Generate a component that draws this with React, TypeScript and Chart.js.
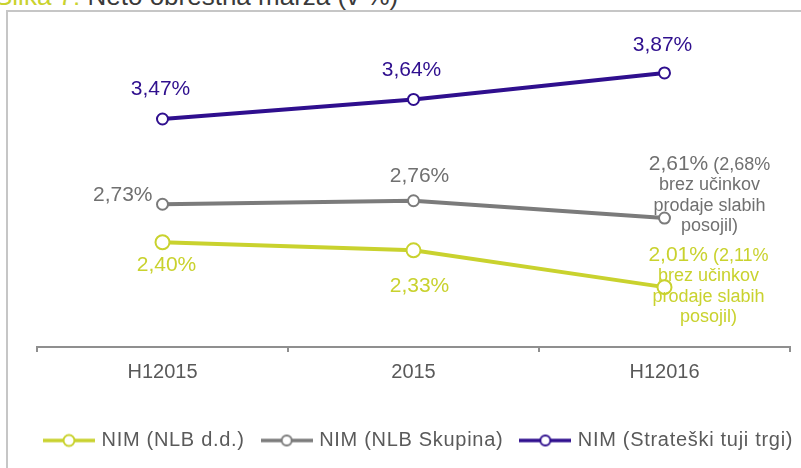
import React, { useEffect, useRef } from 'react';
import { Chart, registerables } from 'chart.js';

Chart.register(...registerables);

const FONT = '"Liberation Sans", Arial, Helvetica, sans-serif';

// ---- data ----
const categories = ['H12015', '2015', 'H12016'];
const seriesNames = ['NIM (NLB d.d.)', 'NIM (NLB Skupina)', 'NIM (Strateški tuji trgi)'];
const nimNlbDD = [2.40, 2.33, 2.01];
const nimNlbSkupina = [2.73, 2.76, 2.61];
const nimStrateski = [3.47, 3.64, 3.87];
const notesNlbDD = [null, null, ['(2,11%', 'brez učinkov', 'prodaje slabih', 'posojil)']];
const notesNlbSkupina = [null, null, ['(2,68%', 'brez učinkov', 'prodaje slabih', 'posojil)']];
const notesStrateski = [null, null, null];
const titleLead = 'Slika 7:';
const titleText = 'Neto obrestna marža (v %)';

// ---- styles ----
const YELLOW = '#c9d22e';
const GRAY = '#7b7b7b';
const GRAY_TEXT = '#707070';
const PURPLE = '#2f0f8e';
const AXIS = '#8f8f8f';
const LEGEND_TEXT = '#5a5a5a';

const seriesColors = [YELLOW, GRAY, PURPLE];
const seriesTextColors = [YELLOW, GRAY_TEXT, PURPLE];
const seriesNotes = [notesNlbDD, notesNlbSkupina, notesStrateski];

const labelLayout = [
  [{ dx: 4, dy: 23, align: 'center' }, { dx: 6, dy: 36, align: 'center' }, { dx: 44, dy: -34, align: 'center' }],
  [{ dx: -10, dy: -9, align: 'right' }, { dx: 6, dy: -25, align: 'center' }, { dx: 45, dy: -56, align: 'center' }],
  [{ dx: -2, dy: -30, align: 'center' }, { dx: -2, dy: -29, align: 'center' }, { dx: -2, dy: -28, align: 'center' }],
];

const MAIN_SIZE = 21;
const NOTE_SIZE = 18;
const NOTE_LINE = 20.5;

const LEGEND_PAD = 19.5;
const LEGEND_START_X = 46.5;
const LEGEND_H = 52;
const LEGEND_LS = '0.7px';

const fmt = (v: number) => v.toFixed(2).replace('.', ',') + '%';

function makeLegendIcon(color: string, r: number) {
  const c = document.createElement('canvas');
  c.width = 52;
  c.height = 16;
  const g = c.getContext('2d') as CanvasRenderingContext2D;
  g.strokeStyle = color;
  g.lineWidth = 3.5;
  g.beginPath();
  g.moveTo(0, 8);
  g.lineTo(52, 8);
  g.stroke();
  g.beginPath();
  g.arc(26, 8, r, 0, Math.PI * 2);
  g.fillStyle = '#ffffff';
  g.fill();
  g.lineWidth = 2;
  g.stroke();
  return c;
}

const legendPatch = {
  id: 'legendPatch',
  beforeLayout(chart: any) {
    const lg: any = chart.legend;
    if (!lg || lg.__patched) return;
    lg.__patched = true;
    const ofit = lg.fit.bind(lg);
    const odraw = lg.draw.bind(lg);
    lg.fit = function () {
      const ctx: any = this.ctx;
      const mw = this.maxWidth;
      this.maxWidth = 5000;
      ctx.save();
      ctx.letterSpacing = LEGEND_LS;
      ofit();
      ctx.restore();
      this.maxWidth = mw;
      this.width = mw;
      this.height = LEGEND_H;
    };
    lg.draw = function () {
      const ctx: any = this.ctx;
      const l = this.left;
      const r = this.right;
      this.left = LEGEND_START_X - LEGEND_PAD;
      this.right = 5000;
      ctx.save();
      ctx.letterSpacing = LEGEND_LS;
      odraw();
      ctx.restore();
      this.left = l;
      this.right = r;
    };
  },
};

const valueLabels = {
  id: 'valueLabels',
  afterDatasetsDraw(chart: any) {
    const ctx: CanvasRenderingContext2D = chart.ctx;
    chart.data.datasets.forEach((ds: any, i: number) => {
      const meta = chart.getDatasetMeta(i);
      meta.data.forEach((pt: any, j: number) => {
        const v = ds.data[j] as number;
        const txt = fmt(v);
        const lay = labelLayout[i][j];
        const note = seriesNotes[i][j];
        const cx = pt.x + lay.dx;
        const cy = pt.y + lay.dy;
        ctx.save();
        ctx.fillStyle = seriesTextColors[i];
        if (!note) {
          ctx.font = `${MAIN_SIZE}px ${FONT}`;
          ctx.textAlign = lay.align as CanvasTextAlign;
          ctx.textBaseline = 'middle';
          ctx.fillText(txt, cx, cy);
        } else {
          ctx.textBaseline = 'alphabetic';
          ctx.textAlign = 'left';
          ctx.font = `${MAIN_SIZE}px ${FONT}`;
          const w1 = ctx.measureText(txt).width;
          ctx.font = `${NOTE_SIZE}px ${FONT}`;
          const first = ' ' + note[0];
          const w2 = ctx.measureText(first).width;
          const base = cy + MAIN_SIZE * 0.358;
          const sx = cx - (w1 + w2) / 2;
          ctx.font = `${MAIN_SIZE}px ${FONT}`;
          ctx.fillText(txt, sx, base);
          ctx.font = `${NOTE_SIZE}px ${FONT}`;
          ctx.fillText(first, sx + w1, base);
          ctx.textAlign = 'center';
          for (let k = 1; k < note.length; k++) {
            ctx.fillText(note[k], cx, base + k * NOTE_LINE);
          }
        }
        ctx.restore();
      });
    });
  },
};

export default function App() {
  const ref = useRef<HTMLCanvasElement | null>(null);

  useEffect(() => {
    if (!ref.current) return;
    const icons = [makeLegendIcon(YELLOW, 5.5), makeLegendIcon(GRAY, 5), makeLegendIcon(PURPLE, 5)];
    const seriesData = [nimNlbDD, nimNlbSkupina, nimStrateski];
    const pointRadii = [7, 5.5, 5.5];
    const chart = new Chart(ref.current, {
      type: 'line',
      data: {
        labels: categories,
        datasets: seriesData.map((d, i) => ({
          label: seriesNames[i],
          data: d,
          borderColor: seriesColors[i],
          backgroundColor: '#ffffff',
          borderWidth: 4,
          pointRadius: pointRadii[i],
          pointBorderWidth: 2,
          pointBackgroundColor: '#ffffff',
          pointBorderColor: seriesColors[i],
          tension: 0,
          fill: false,
        })),
      },
      options: {
        animation: false,
        responsive: false,
        devicePixelRatio: 1,
        events: [],
        layout: { padding: { left: 37, right: 11, top: 58, bottom: 5 } },
        scales: {
          x: {
            type: 'category',
            offset: true,
            afterFit: (scale: any) => {
              scale.height = 64;
            },
            grid: {
              display: true,
              drawOnChartArea: false,
              drawTicks: true,
              tickLength: 5,
              color: AXIS,
              lineWidth: 2,
              offset: true,
            },
            border: { display: true, color: AXIS, width: 2 },
            ticks: {
              font: { family: FONT, size: 20 },
              color: '#595959',
              padding: 8,
              maxRotation: 0,
              autoSkip: false,
            },
          },
          y: {
            display: false,
            min: 1.49,
            max: 4.0,
          },
        },
        plugins: {
          tooltip: { enabled: false },
          title: { display: false },
          legend: {
            display: true,
            position: 'bottom',
            align: 'start',
            labels: {
              usePointStyle: true,
              pointStyleWidth: 45,
              padding: LEGEND_PAD,
              color: LEGEND_TEXT,
              font: { family: FONT, size: 20 },
              generateLabels: (ch: any) =>
                ch.data.datasets.map((ds: any, i: number) => ({
                  text: ds.label,
                  pointStyle: icons[i],
                  fillStyle: '#ffffff',
                  strokeStyle: seriesColors[i],
                  lineWidth: 0,
                  hidden: false,
                  datasetIndex: i,
                  fontColor: LEGEND_TEXT,
                })),
            },
          },
        },
      } as any,
      plugins: [legendPatch as any, valueLabels as any],
    });
    return () => chart.destroy();
  }, []);

  return (
    <div
      style={{
        position: 'fixed',
        left: 0,
        top: 0,
        width: 801,
        height: 468,
        overflow: 'hidden',
        background: '#ffffff',
      }}
    >
      <div
        style={{
          position: 'absolute',
          left: -5,
          top: -17,
          fontFamily: FONT,
          fontSize: 26,
          lineHeight: '26px',
          whiteSpace: 'nowrap',
          color: '#3a3a3a',
        }}
      >
        <span style={{ color: YELLOW }}>{titleLead}</span> {titleText}
      </div>
      <div
        style={{
          position: 'absolute',
          left: 6,
          top: 10,
          width: 1000,
          height: 1000,
          borderLeft: '2px solid #c6c6c6',
          borderTop: '2px solid #c6c6c6',
        }}
      />
      <canvas
        ref={ref}
        width={801}
        height={468}
        style={{ position: 'absolute', left: 0, top: 0, width: 801, height: 468 }}
      />
    </div>
  );
}
